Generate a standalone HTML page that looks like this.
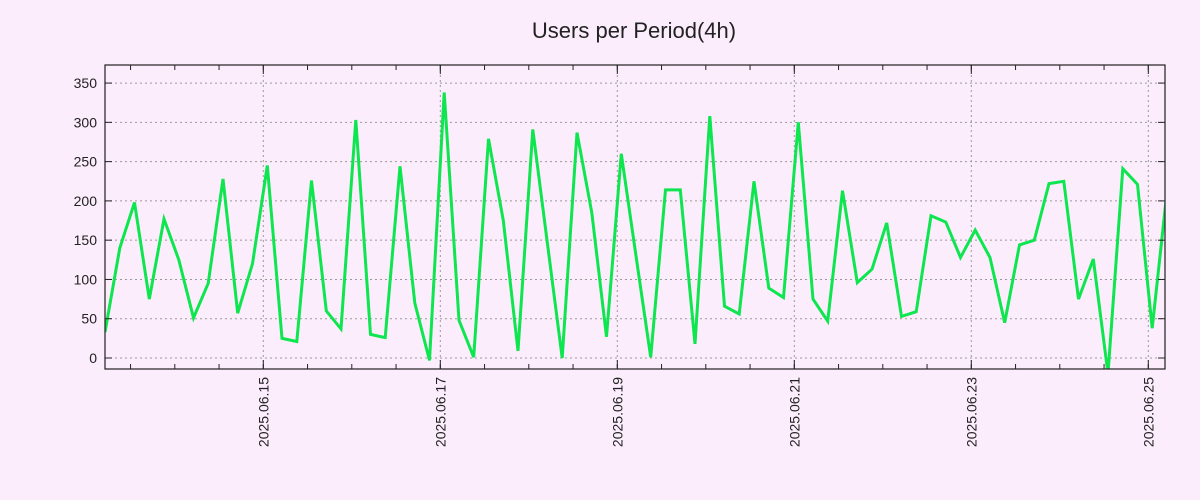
<!DOCTYPE html>
<html><head><meta charset="utf-8"><style>
body{margin:0;background:#fcedfc;}
svg{display:block;font-family:"Liberation Sans","DejaVu Sans",sans-serif;}
</style></head><body>
<svg id="c" width="1200" height="500">
<rect width="1200" height="500" fill="#fcedfc"/>
<text x="634" y="38" font-size="22" text-anchor="middle" fill="#222">Users per Period(4h)</text>
<defs><clipPath id="pc"><rect x="105" y="65" width="1060" height="304"/></clipPath></defs>
<g id="grid"></g>
<g id="series" clip-path="url(#pc)"></g>
<rect x="105" y="65" width="1060" height="304" fill="none" stroke="#222" stroke-width="1.2"/>
<g id="axes"></g>
</svg>
<script>
const values = [33,140,198,75,177,125,51,95,228,57,120,245,25,21,226,60,37,303,30,26,244,70,-3,338,48,1,279,175,9,291,145,0,287,185,27,260,130,1,214,214,18,308,66,56,225,89,77,300,75,47,213,96,113,172,53,59,181,173,128,163,128,45,144,150,222,225,75,126,-20,241,221,38,212];
const yTicks = [0,50,100,150,200,250,300,350];
const dateLabels = ["2025.06.15","2025.06.17","2025.06.19","2025.06.21","2025.06.23","2025.06.25"];
const startDay = -1.7887; // first point, days relative to 2025.06.15
const stepDays = 4/24;
const NS="http://www.w3.org/2000/svg";
const L=105,R=1165,T=65,B=369;
const xMin=startDay, xMax=startDay+(R-L)/88.5;
const yMin=-14, yMax=373;
const X=d=>L+(d-xMin)/(xMax-xMin)*(R-L);
const Y=v=>B-(v-yMin)/(yMax-yMin)*(B-T);
function mk(t,a,p){const e=document.createElementNS(NS,t);for(const k in a)e.setAttribute(k,a[k]);p.appendChild(e);return e;}
const grid=document.getElementById('grid'),axes=document.getElementById('axes'),series=document.getElementById('series');
yTicks.forEach(v=>{
 const y=Y(v);
 const g=mk('line',{x1:L,x2:R,y1:y,y2:y,stroke:'#999','stroke-dasharray':'2,3'},grid);
 
 
 mk('line',{x1:L,x2:L+7,y1:y,y2:y,stroke:'#222'},axes);
 mk('line',{x1:R-7,x2:R,y1:y,y2:y,stroke:'#222'},axes);
 const t=mk('text',{x:L-8,y:y+5,'font-size':14,'text-anchor':'end',fill:'#222'},axes);
 t.textContent=v;
 
 
});
for(let h=-3;h<=21;h++){
 const d=h*0.5; const x=X(d);
 if(x<L||x>R)continue;
 mk('line',{x1:x,x2:x,y1:B,y2:B-5,stroke:'#222'},axes);
 mk('line',{x1:x,x2:x,y1:T,y2:T+5,stroke:'#222'},axes);
}
dateLabels.forEach((s,i)=>{
 const x=X(i*2);
 const g=mk('line',{x1:x,x2:x,y1:T,y2:B,stroke:'#999','stroke-dasharray':'2,3'},grid);
 
 
 mk('line',{x1:x,x2:x,y1:B,y2:B-9,stroke:'#222'},axes);
 mk('line',{x1:x,x2:x,y1:T,y2:T+9,stroke:'#222'},axes);
 const t=mk('text',{x:0,y:0,'font-size':14,'text-anchor':'end',fill:'#222',transform:`translate(${x+5},${B+8}) rotate(-90)`},axes);
 t.textContent=s;
 
 
});
const pts=values.map((v,i)=>X(startDay+i*stepDays).toFixed(1)+','+Y(v).toFixed(1)).join(' ');
const pl=mk('polyline',{points:pts,fill:'none',stroke:'#0de64e','stroke-width':3,'stroke-linejoin':'miter'},series);


</script>
</body></html>
